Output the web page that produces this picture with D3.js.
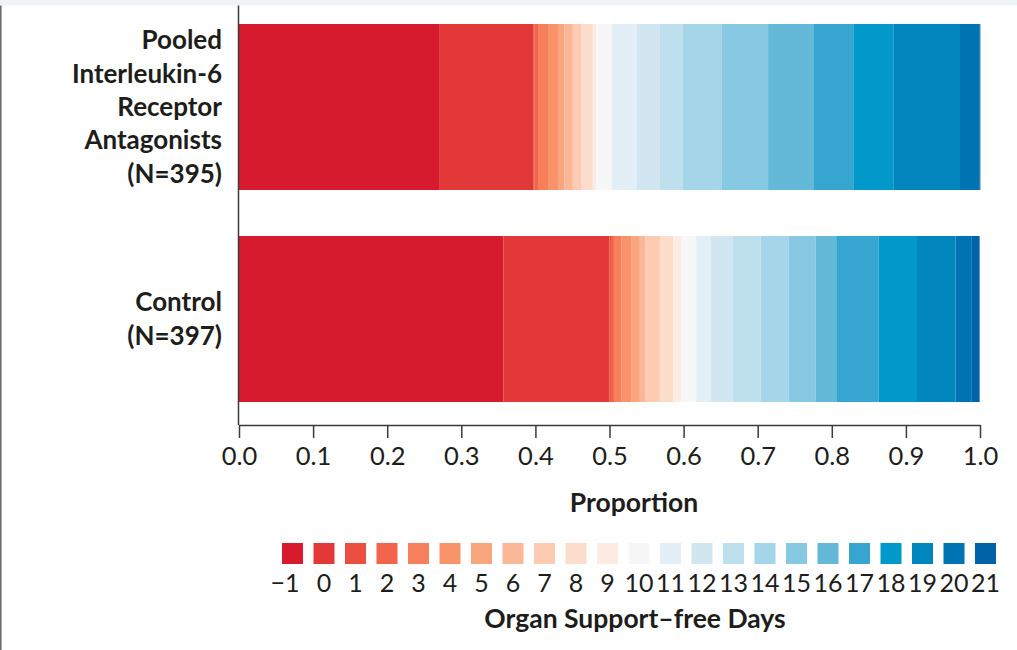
<!DOCTYPE html>
<html>
<head>
<meta charset="utf-8">
<script src="https://cdn.jsdelivr.net/npm/d3@7"></script>
<style>
  body { margin: 0; background: #fff; }
  svg { display: block; font-family: Lato, "Open Sans", sans-serif; }
</style>
</head>
<body>
<svg width="1017" height="650"></svg>
<script>
// The svg
const svg = d3.select("svg"),
    width = +svg.attr("width"),
    height = +svg.attr("height");

// Data
const days = [-1, 0, 1, 2, 3, 4, 5, 6, 7, 8, 9, 10, 11, 12, 13, 14, 15, 16, 17, 18, 19, 20, 21];
const dayColors = ["#d71b2f", "#e23837", "#ea4f42", "#f2654b", "#f6805c", "#f8936a", "#f9a67f",
    "#fbb899", "#fccbb2", "#fcdcca", "#fdece4", "#f7f7f7", "#e3eff6", "#d2e6f1", "#bde0ec",
    "#a5d5e8", "#87c9e2", "#64b9d9", "#36a6d0", "#0099c9", "#0086bc", "#0074b3", "#0062a7"];

const groups = ["il6", "control"];
const groupLabels = [
    ["Pooled", "Interleukin-6", "Receptor", "Antagonists", "(N=395)"],
    ["Control", "(N=397)"]
];
// proportion of patients in each day category (-1 .. 21)
const il6Props = [0.271, 0.126, 0.002, 0.0045, 0.0135, 0.0135, 0.009, 0.011, 0.012, 0.015, 0.005,
    0.0205, 0.034, 0.031, 0.031, 0.052, 0.063, 0.061, 0.054, 0.054, 0.090, 0.026, 0.0015];
const controlProps = [0.357, 0.143, 0.002, 0.004, 0.0105, 0.0135, 0.011, 0.007, 0.020, 0.018, 0.011,
    0.020, 0.020, 0.029, 0.038, 0.038, 0.036, 0.029, 0.056, 0.052, 0.052, 0.022, 0.0105];
const xTicks = [0, 0.1, 0.2, 0.3, 0.4, 0.5, 0.6, 0.7, 0.8, 0.9, 1.0];

const textColor = "#1d1d1b";

// page frame bits
svg.append("rect").attr("x", 0).attr("y", 0).attr("width", width).attr("height", 5.5)
    .attr("fill", "#edf5f9");
svg.append("line").attr("x1", 0.8).attr("x2", 0.8).attr("y1", 5.5).attr("y2", height)
    .attr("stroke", "#6d6d6d").attr("stroke-width", 1.6);

// scales
const x = d3.scaleLinear().domain([0, 1]).range([239, 980]);
const y = d3.scaleBand().domain(groups).range([24, 402]).paddingInner(0.217);
const color = d3.scaleOrdinal().domain(days).range(dayColors);

// stack the proportions into segments
function segments(props) {
    let acc = 0;
    return props.map((p, i) => {
        const s = {day: days[i], x0: acc, x1: acc + p};
        acc += p;
        return s;
    });
}
const bars = [segments(il6Props), segments(controlProps)];

svg.append("g")
    .selectAll("g")
    .data(groups)
    .join("g")
        .attr("transform", g => `translate(0,${y(g)})`)
        .selectAll("rect")
        .data((g, i) => bars[i])
        .join("rect")
            .attr("x", d => x(d.x0))
            .attr("width", d => Math.max(0, x(d.x1) - x(d.x0)))
            .attr("height", y.bandwidth())
            .attr("fill", d => color(d.day));

// group labels
svg.append("g")
    .selectAll("text")
    .data(groups)
    .join("text")
        .attr("text-anchor", "end")
        .attr("font-weight", "bold")
        .attr("font-size", 26)
        .attr("fill", textColor)
        .each(function(g, i) {
            const lines = groupLabels[i];
            const mid = y(g) + y.bandwidth() / 2 + 9;
            d3.select(this).selectAll("tspan")
                .data(lines)
                .join("tspan")
                    .attr("x", 222)
                    .attr("y", (l, j) => mid + (j - (lines.length - 1) / 2) * 33.3)
                    .text(l => l);
        });

// y axis line
svg.append("line")
    .attr("x1", 238.5).attr("x2", 238.5)
    .attr("y1", 5.5).attr("y2", 425)
    .attr("stroke", "#3a3a3a").attr("stroke-width", 1.5);

// x axis
const xAxis = svg.append("g")
    .attr("transform", "translate(0,425)")
    .call(d3.axisBottom(x).tickValues(xTicks).tickFormat(d3.format(".1f")).tickSize(13).tickSizeOuter(0));
xAxis.select(".domain").attr("stroke", "#3a3a3a").attr("stroke-width", 1.5);
xAxis.selectAll(".tick line").attr("stroke", "#3a3a3a").attr("stroke-width", 1.5);
xAxis.selectAll(".tick text")
    .attr("y", 40).attr("dy", 0)
    .attr("font-family", "Lato, sans-serif")
    .attr("font-size", 25.5)
    .attr("fill", textColor);

svg.append("text")
    .attr("x", 634).attr("y", 512)
    .attr("text-anchor", "middle")
    .attr("font-weight", "bold")
    .attr("font-size", 26.5)
    .attr("fill", textColor)
    .text("Proportion");

// legend
const lx = d3.scaleBand().domain(days).range([282, 996]).paddingInner(1 / 3);
const legend = svg.append("g");
legend.selectAll("rect")
    .data(days)
    .join("rect")
        .attr("x", d => lx(d))
        .attr("y", 543)
        .attr("width", lx.bandwidth())
        .attr("height", 21)
        .attr("fill", d => color(d));
legend.selectAll("text")
    .data(days)
    .join("text")
        .attr("x", d => d < 0 ? lx(d) + lx.bandwidth() / 2 + 7 : lx(d) + lx.bandwidth() / 2)
        .attr("y", 592)
        .attr("text-anchor", d => d < 0 ? "end" : "middle")
        .attr("font-size", 25)
        .attr("fill", textColor)
        .text(d => d < 0 ? "\u2212" + Math.abs(d) : d);

svg.append("text")
    .attr("x", 635).attr("y", 628)
    .attr("text-anchor", "middle")
    .attr("font-weight", "bold")
    .attr("font-size", 26.5)
    .attr("fill", textColor)
    .text("Organ Support\u2013free Days");
</script>
</body>
</html>
